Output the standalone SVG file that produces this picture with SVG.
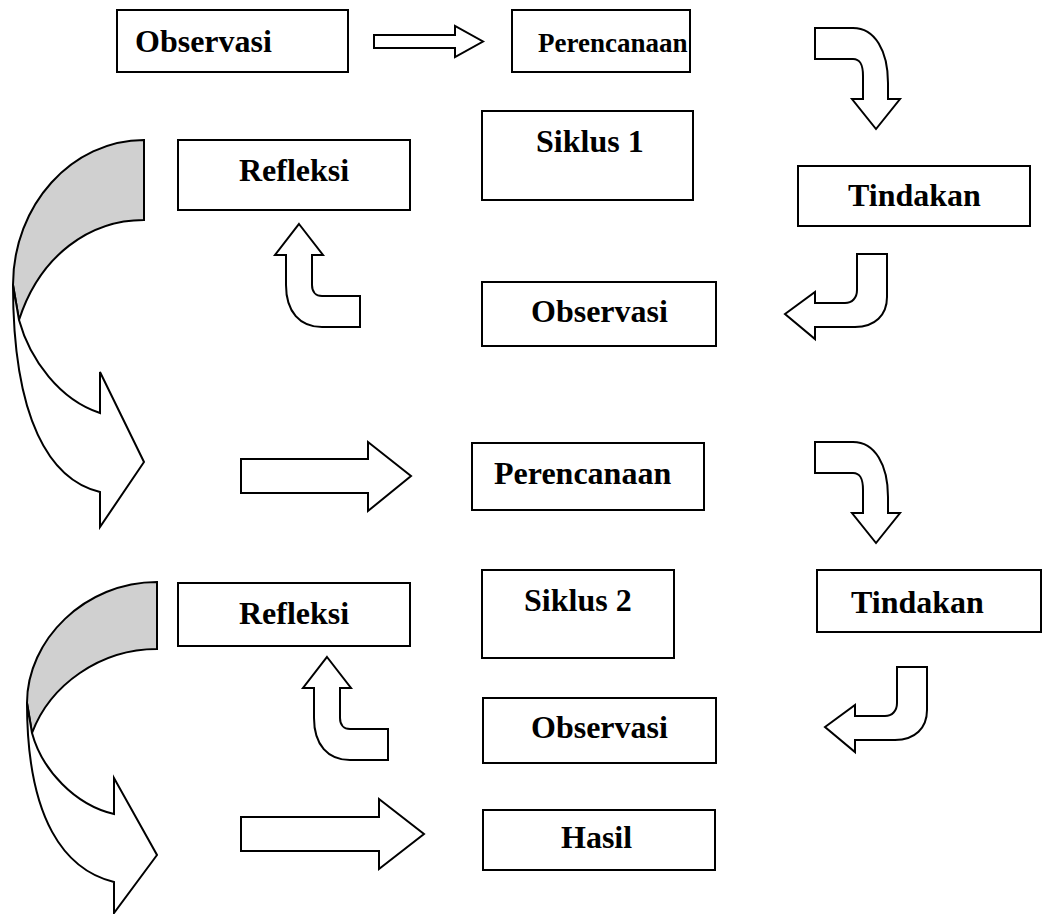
<svg xmlns="http://www.w3.org/2000/svg" width="1043" height="914" viewBox="0 0 1043 914">
<style>
.box{fill:#fff;stroke:#000;stroke-width:2}
.t{font-family:"Liberation Serif","Times New Roman",serif;font-weight:bold;font-size:32px;fill:#000}
.ar{fill:#fff;stroke:#000;stroke-width:2;stroke-linejoin:miter}
.gr{fill:#d0d0d0;stroke:#000;stroke-width:2}
</style>
<rect width="1043" height="914" fill="#fff"/>
<g id="connectors">
  <path class="ar" d="M374,35 L455,35 L455,26 L483,41.5 L455,57 L455,48 L374,48 Z"/>
  <path id="bent-rd-1" class="ar" d="M815,28 L853,28 C875,28 888,51 888,83 L888,99 L900,99 L876,129 L852,99 L863,99 L863,76 C863,64 860,59 853,59 L815,59 Z"/>
  <path id="bent-dl-1" class="ar" d="M857,254 L887,254 L887,297 C887,315 875,327 855,327 L815,327 L815,339 L785,314 L815,292 L815,303 L845,303 C852,303 857,298 857,290 Z"/>
  <path id="up-1" class="ar" d="M299,224 L323,255 L312,255 L312,285 C312,292 316,296 322,296 L360,296 L360,327 L322,327 C300,327 286,312 286,285 L286,255 L275,255 Z"/>
  <g id="curved-1">
    <path class="gr" d="M144,140 C72,140 13,205 13,285 L19,320 C40,255 90,220 144,220 Z"/>
    <path class="ar" d="M13,285 C13,420 50,480 100,492 L100,527 L144,462 L100,372 L100,413 C60,400 30,360 19,320 Z"/>
  </g>
  <path class="ar" d="M241,459 L368,459 L368,442 L411,476 L368,511 L368,493 L241,493 Z"/>
  <path id="bent-rd-2" class="ar" d="M815,442 L853,442 C875,442 888,465 888,497 L888,513 L900,513 L876,543 L852,513 L863,513 L863,490 C863,478 860,473 853,473 L815,473 Z"/>
  <path id="bent-dl-2" class="ar" d="M897,667 L927,667 L927,710 C927,728 915,740 895,740 L855,740 L855,752 L825,727 L855,705 L855,716 L885,716 C892,716 897,711 897,703 Z"/>
  <path id="up-2" class="ar" d="M327,657 L351,688 L340,688 L340,718 C340,725 344,729 350,729 L388,729 L388,760 L350,760 C328,760 314,745 314,718 L314,688 L303,688 Z"/>
  <g id="curved-2">
    <path class="gr" d="M157,582 C85,582 27,640 27,703 L32,733 C50,685 100,649 157,649 Z"/>
    <path class="ar" d="M27,703 C27,820 65,870 114,882 L114,913 L157,855 L114,778 L114,814 C75,805 42,770 32,733 Z"/>
  </g>
  <path class="ar" d="M241,817 L379,817 L379,799 L424,834 L379,869 L379,851 L241,851 Z"/>
</g>
<g id="n-observasi-1"><rect class="box" x="117" y="10" width="231" height="62"/><text class="t" x="135" y="52">Observasi</text></g>
<g id="n-perencanaan-1"><rect class="box" x="512" y="10" width="178" height="62"/><text class="t" x="538" y="52" style="font-size:27px">Perencanaan</text></g>
<g id="n-siklus-1"><rect class="box" x="482" y="111" width="211" height="89"/><text class="t" x="536" y="152">Siklus 1</text></g>
<g id="n-refleksi-1"><rect class="box" x="178" y="140" width="232" height="70"/><text class="t" x="239" y="181">Refleksi</text></g>
<g id="n-tindakan-1"><rect class="box" x="798" y="166" width="232" height="60"/><text class="t" x="848" y="206">Tindakan</text></g>
<g id="n-observasi-2"><rect class="box" x="482" y="282" width="234" height="64"/><text class="t" x="531" y="322">Observasi</text></g>
<g id="n-perencanaan-2"><rect class="box" x="472" y="443" width="232" height="67"/><text class="t" x="494" y="484">Perencanaan</text></g>
<g id="n-siklus-2"><rect class="box" x="482" y="570" width="192" height="88"/><text class="t" x="524" y="611">Siklus 2</text></g>
<g id="n-refleksi-2"><rect class="box" x="178" y="583" width="232" height="63"/><text class="t" x="239" y="624">Refleksi</text></g>
<g id="n-tindakan-2"><rect class="box" x="817" y="570" width="224" height="62"/><text class="t" x="851" y="613">Tindakan</text></g>
<g id="n-observasi-3"><rect class="box" x="483" y="698" width="233" height="65"/><text class="t" x="531" y="738">Observasi</text></g>
<g id="n-hasil"><rect class="box" x="483" y="810" width="232" height="60"/><text class="t" x="561" y="848">Hasil</text></g>
</svg>
